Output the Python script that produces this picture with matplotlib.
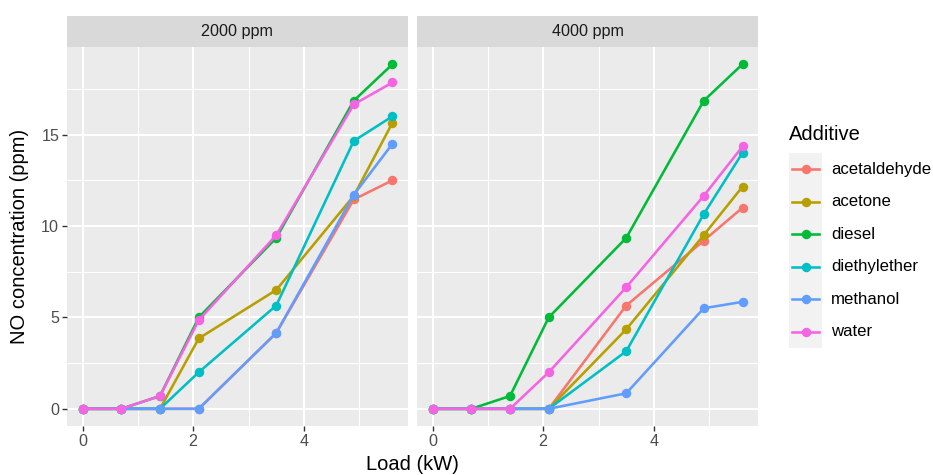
import matplotlib.pyplot as plt
from matplotlib.patches import Rectangle

# data
load = [0, 0.7, 1.4, 2.1, 3.5, 4.9, 5.6]
panels = ["2000 ppm", "4000 ppm"]
additives = ["acetaldehyde", "acetone", "diesel", "diethylether", "methanol", "water"]
colors = ["#F8766D", "#B79F00", "#00BA38", "#00BFC4", "#619CFF", "#F564E3"]

no_2000 = {
    "acetaldehyde": [0, 0, 0, 0, 4.15, 11.45, 12.5],
    "acetone":      [0, 0, 0, 3.85, 6.5, 11.65, 15.65],
    "diesel":       [0, 0, 0.7, 5.0, 9.35, 16.85, 18.85],
    "diethylether": [0, 0, 0, 2.0, 5.65, 14.65, 16.0],
    "methanol":     [0, 0, 0, 0, 4.15, 11.7, 14.5],
    "water":        [0, 0, 0.7, 4.85, 9.5, 16.65, 17.85],
}
no_4000 = {
    "acetaldehyde": [0, 0, 0, 0, 5.65, 9.2, 11.0],
    "acetone":      [0, 0, 0, 0, 4.35, 9.5, 12.15],
    "diesel":       [0, 0, 0.7, 5.0, 9.35, 16.85, 18.85],
    "diethylether": [0, 0, 0, 0, 3.15, 10.65, 14.0],
    "methanol":     [0, 0, 0, 0, 0.85, 5.5, 5.85],
    "water":        [0, 0, 0, 2.0, 6.65, 11.65, 14.35],
}
data = [no_2000, no_4000]

W, H = 933, 475
plt.rcParams['font.family'] = ['Liberation Sans', 'DejaVu Sans']
fig = plt.figure(figsize=(W / 100, H / 100), dpi=100)


def px(x0, y0, x1, y1):
    # pixel box (top-left origin) -> figure fraction
    return [x0 / W, 1 - y1 / H, (x1 - x0) / W, (y1 - y0) / H]


xlim = (-0.28, 5.88)
ylim = (-0.94, 19.79)
lefts = [67, 417]
for i, name in enumerate(panels):
    ax = fig.add_axes(px(lefts[i], 47, lefts[i] + 341, 426))
    ax.set_facecolor("#EBEBEB")
    for s in ax.spines.values():
        s.set_visible(False)
    ax.set_xlim(*xlim)
    ax.set_ylim(*ylim)
    ax.set_xticks([0, 2, 4])
    ax.set_yticks([0, 5, 10, 15])
    ax.set_xticks([1, 3, 5], minor=True)
    ax.set_yticks([2.5, 7.5, 12.5, 17.5], minor=True)
    ax.grid(which="major", color="white", lw=1.5)
    ax.grid(which="minor", color="white", lw=0.75)
    ax.set_axisbelow(True)
    ax.tick_params(which="major", length=3.6, width=1.0, color="#333333",
                   labelcolor="#4D4D4D", labelsize=11.6, pad=2)
    ax.tick_params(which="minor", length=0)
    if i == 1:
        ax.tick_params(axis="y", which="major", length=0, labelleft=False)
    for name_add, col in zip(additives, colors):
        ax.plot(load, data[i][name_add], "o-", color=col, lw=1.85, ms=5.8,
                solid_capstyle="butt")
    # facet strip
    sax = fig.add_axes(px(lefts[i], 16, lefts[i] + 341, 47))
    sax.set_facecolor("#D9D9D9")
    sax.set_xticks([])
    sax.set_yticks([])
    for s in sax.spines.values():
        s.set_visible(False)
    sax.text(0.5, 0.5, name, ha="center", va="center", fontsize=11.6,
             color="#1A1A1A", transform=sax.transAxes)

fig.text(412 / W, 1 - 465 / H, "Load (kW)", ha="center", va="center", fontsize=14.5)
fig.text(20 / W, 1 - 236 / H, "NO concentration (ppm)", ha="center", va="center",
         rotation=90, fontsize=14.5)

# legend drawn by hand, ggplot-like
lax = fig.add_axes(px(789, 153, 822, 348))
lax.set_xlim(0, 1)
lax.set_ylim(len(additives), 0)
lax.axis("off")
lax.add_patch(Rectangle((0, 0), 1, len(additives), color="#F2F2F2", zorder=0))
for k, (name_add, col) in enumerate(zip(additives, colors)):
    lax.plot([0.1, 0.9], [k + 0.5, k + 0.5], color=col, lw=1.85)
    lax.plot([0.5], [k + 0.5], "o", color=col, ms=5.8)
    fig.text(831 / W, 1 - (153 + (k + 0.5) * 32.5) / H, name_add, ha="left",
             va="center", fontsize=12.1, color="black")
fig.text(789 / W, 1 - 134 / H, "Additive", ha="left", va="center", fontsize=14.5)

fig.savefig("out.png", dpi=100)
